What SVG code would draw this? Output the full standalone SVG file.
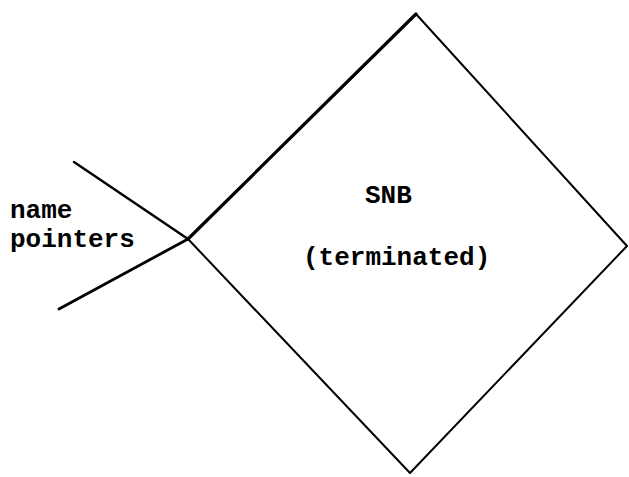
<svg xmlns="http://www.w3.org/2000/svg" width="629" height="477" viewBox="0 0 629 477">
<style>
.t{font-family:"Liberation Mono","Courier New",monospace;font-size:26px;font-weight:bold;fill:#000}
.e{stroke:#000;fill:none;stroke-linecap:round;stroke-linejoin:round}
</style>
<rect width="629" height="477" fill="#fff"/>
<g id="snb">
<path class="e" stroke-width="2" d="M416,14 L627,246 L410,473 L188,239"/>
<path class="e" stroke-width="3.2" d="M188,239 L416,14"/>
<text class="t" x="365" y="203">SNB</text>
<text class="t" x="303" y="265">(terminated)</text>
</g>
<g id="name-pointers">
<text class="t" x="10" y="218">name</text>
<text class="t" x="10" y="247">pointers</text>
</g>
<g id="connectors">
<path class="e" stroke-width="2.5" d="M74,162 L188,239"/>
<path class="e" stroke-width="2.8" d="M59,309 L188,239"/>
</g>
</svg>
